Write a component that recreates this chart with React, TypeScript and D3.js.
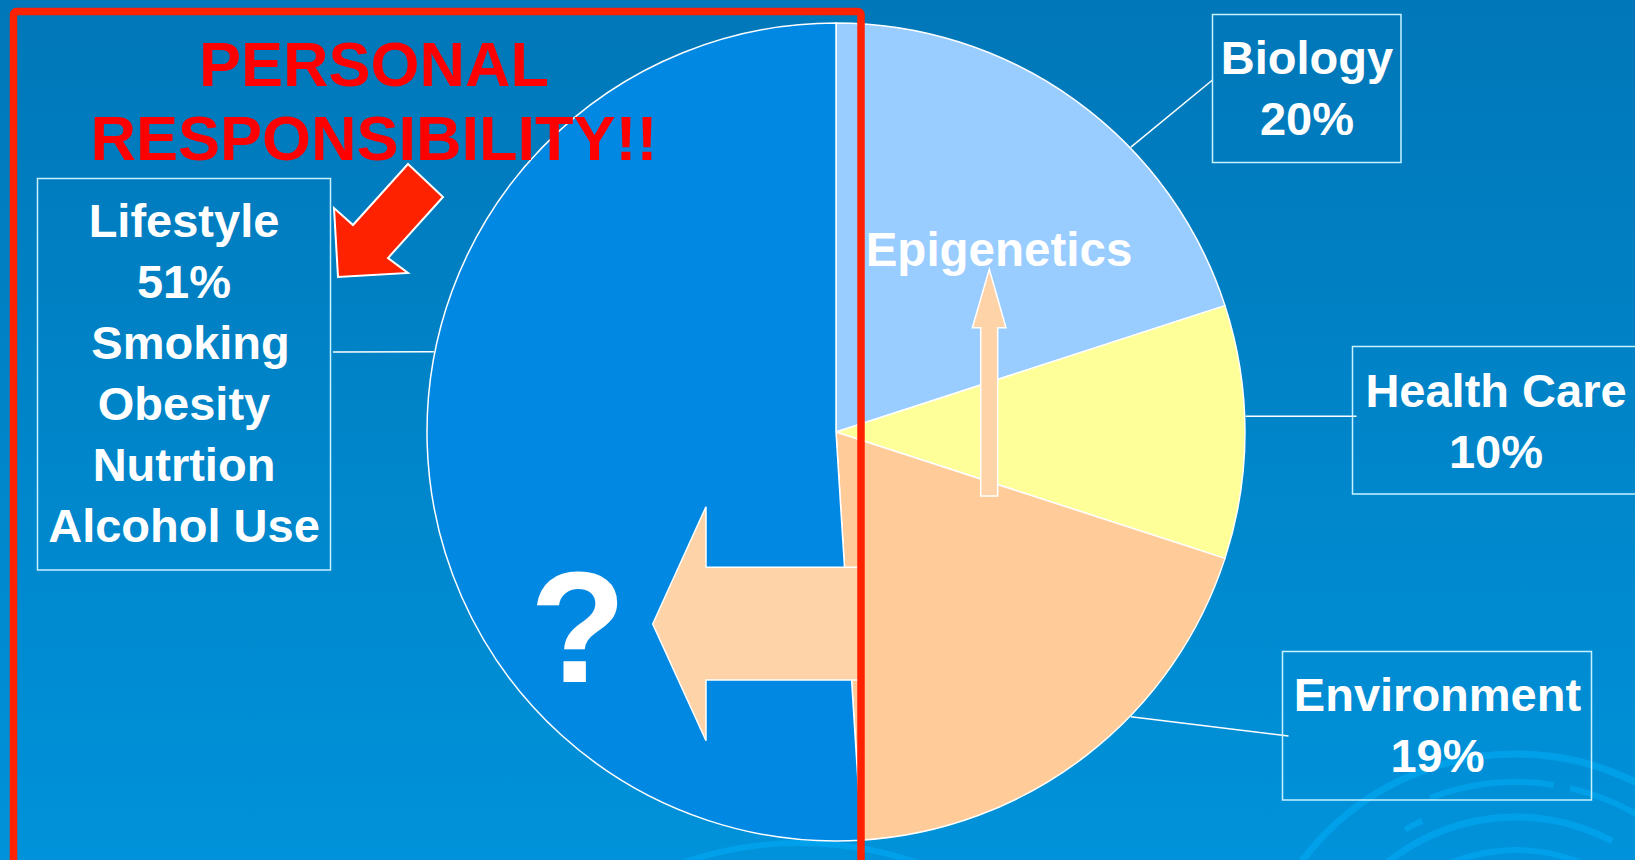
import React from "react";
import * as d3 from "d3";

// slices, clockwise from 12 o'clock
const categories = ["Biology", "Health Care", "Environment", "Lifestyle"];
const shares = [20, 10, 19, 51];
const sliceColors = ["#99CCFF", "#FFFF99", "#FFCC99", "#0088E3"];
const lifestyleFactors = [" Smoking", "Obesity", "Nutrtion", "Alcohol Use"];

const titleLines = ["PERSONAL", "RESPONSIBILITY!!"];

// label boxes (x, y, w, h), where the leader leaves the pie (deg), where it ends
const labelBoxes = [
    { x: 1212.5, y: 14.5, w: 188.5, h: 148, cx: 1307, base: 74, angle: 46, end: [1212.5, 80] },
    { x: 1352.5, y: 346.5, w: 287, h: 147.5, cx: 1496, base: 406.7, angle: 87.8, end: [1356.5, 416.3] },
    { x: 1282.5, y: 651.5, w: 309, h: 148.5, cx: 1437.5, base: 710.7, angle: 134, end: [1288.5, 736] },
    { x: 37.5, y: 178.5, w: 293, h: 391.5, cx: 184, base: 237.3, angle: 281.3, end: [333, 352] },
];

// background rings, bottom right
const rings = [
    { cx: 1516, cy: 1022, r: 268, w: 7, a0: -53, a1: 60 },
    { cx: 1516, cy: 1022, r: 240, w: 6, a0: -21, a1: 9 },
    { cx: 1516, cy: 1022, r: 240, w: 6, a0: 13, a1: 40 },
    { cx: 1516, cy: 1022, r: 222, w: 6, a0: -30, a1: -25 },
    { cx: 1516, cy: 1022, r: 205, w: 7, a0: -42, a1: 28 },
    { cx: 1516, cy: 1022, r: 172, w: 6, a0: -32, a1: 22 },
    { cx: 800, cy: 1200, r: 357, w: 6, a0: -22, a1: 22 },
];

const redArrow = [[338, 277], [334, 208], [353, 225], [408, 164], [443, 197], [388, 258], [408, 273]];
const leftArrow = [[652.7, 624], [706, 506.7], [706, 567.3], [860, 567.3], [860, 680], [706, 680], [706, 740.7]];
const upArrow = [[989.3, 269.3], [1006, 327.7], [997.7, 327.7], [997.7, 496], [980.7, 496], [980.7, 327.7], [972.3, 327.7]];

const FONT = "'Liberation Sans', Arial, sans-serif";

export default function App() {
    const ref = React.useRef<SVGSVGElement>(null);
    React.useEffect(() => {
        const width = 1635;
        const height = 860;
        const cx = 836;
        const cy = 432;
        const r = 409;
        const rad = Math.PI / 180;

        const svg = d3.select(ref.current).attr("width", width).attr("height", height);
        svg.selectAll("*").remove();

        const grad = svg.append("defs").append("linearGradient")
            .attr("id", "bg").attr("x1", 0).attr("y1", 0).attr("x2", 0).attr("y2", 1);
        grad.append("stop").attr("offset", "0%").attr("stop-color", "#0077B8");
        grad.append("stop").attr("offset", "100%").attr("stop-color", "#0092DA");
        svg.append("rect").attr("width", width).attr("height", height).attr("fill", "url(#bg)");

        // decoration
        const ringArc = d3.arc<any>()
            .innerRadius((d) => d.r - d.w / 2)
            .outerRadius((d) => d.r + d.w / 2)
            .startAngle((d) => d.a0 * rad)
            .endAngle((d) => d.a1 * rad);
        svg.append("g").selectAll("path").data(rings).join("path")
            .attr("transform", (d) => `translate(${d.cx},${d.cy})`)
            .attr("d", ringArc)
            .attr("fill", "#00A4EE")
            .attr("opacity", 0.8);

        // pie
        const pie = d3.pie<number>().sort(null).value((d) => d);
        const arc = d3.arc<d3.PieArcDatum<number>>().innerRadius(0).outerRadius(r);
        svg.append("g").attr("transform", `translate(${cx},${cy})`)
            .selectAll("path").data(pie(shares)).join("path")
            .attr("d", arc)
            .attr("fill", (d, i) => sliceColors[i])
            .attr("stroke", "#fff")
            .attr("stroke-width", 1.5);

        // leaders + boxes
        const labels = categories.map((c, i) => {
            const lines = i === 3 ? [c, shares[i] + "%", ...lifestyleFactors] : [c, shares[i] + "%"];
            return { ...labelBoxes[i], lines };
        });
        svg.append("g").selectAll("line").data(labels).join("line")
            .attr("x1", (d) => cx + (r + 1) * Math.sin(d.angle * rad))
            .attr("y1", (d) => cy - (r + 1) * Math.cos(d.angle * rad))
            .attr("x2", (d) => d.end[0])
            .attr("y2", (d) => d.end[1])
            .attr("stroke", "#fff")
            .attr("stroke-width", 1.5);
        const box = svg.append("g").selectAll("g").data(labels).join("g");
        box.append("rect")
            .attr("x", (d) => d.x).attr("y", (d) => d.y)
            .attr("width", (d) => d.w).attr("height", (d) => d.h)
            .attr("fill", "none")
            .attr("stroke", "#C8F2FF")
            .attr("stroke-width", 1.5);
        box.each(function (d) {
            d3.select(this).selectAll("text").data(d.lines).join("text")
                .attr("x", d.cx)
                .attr("y", (t, k) => d.base + k * 60.9)
                .attr("text-anchor", "middle")
                .attr("font-family", FONT)
                .attr("font-weight", "bold")
                .attr("font-size", 47)
                .attr("fill", "#fff")
                .style("white-space", "pre")
                .text((t) => t);
        });

        const poly = (pts: number[][]) => "M" + pts.map((p) => p.join(",")).join("L") + "Z";

        // epigenetics arrow and label
        svg.append("path").attr("d", poly(upArrow))
            .attr("fill", "#FFD3A8").attr("stroke", "#fff").attr("stroke-width", 1.5);
        svg.append("text").attr("x", 999).attr("y", 265.7)
            .attr("text-anchor", "middle").attr("font-family", FONT).attr("font-weight", "bold")
            .attr("font-size", 47.5).attr("fill", "#fff").text("Epigenetics");

        // big left arrow and question mark
        svg.append("path").attr("d", poly(leftArrow))
            .attr("fill", "#FFD3A8").attr("stroke", "#fff").attr("stroke-width", 1.5);
        svg.append("text").attr("x", 578).attr("y", 681.7)
            .attr("text-anchor", "middle").attr("font-family", FONT).attr("font-weight", "bold")
            .attr("font-size", 158).attr("fill", "#fff").text("?");

        // title
        svg.append("g").selectAll("text").data(titleLines).join("text")
            .attr("x", 374)
            .attr("y", (d, i) => 85.7 + i * 74.3)
            .attr("text-anchor", "middle")
            .attr("font-family", FONT)
            .attr("font-weight", "bold")
            .attr("font-size", 63)
            .attr("fill", "#FF0000")
            .text((d) => d);

        svg.append("path").attr("d", poly(redArrow))
            .attr("fill", "#FF2200").attr("stroke", "#fff").attr("stroke-width", 2)
            .attr("stroke-linejoin", "miter");

        // red frame
        svg.append("rect")
            .attr("x", 13.5).attr("y", 11.5)
            .attr("width", 847.5).attr("height", 900)
            .attr("rx", 3)
            .attr("fill", "none")
            .attr("stroke", "#FF2200")
            .attr("stroke-width", 7.5);
    }, []);

    return (
        <svg ref={ref} style={{ position: "absolute", left: 0, top: 0, display: "block" }}></svg>
    );
}
